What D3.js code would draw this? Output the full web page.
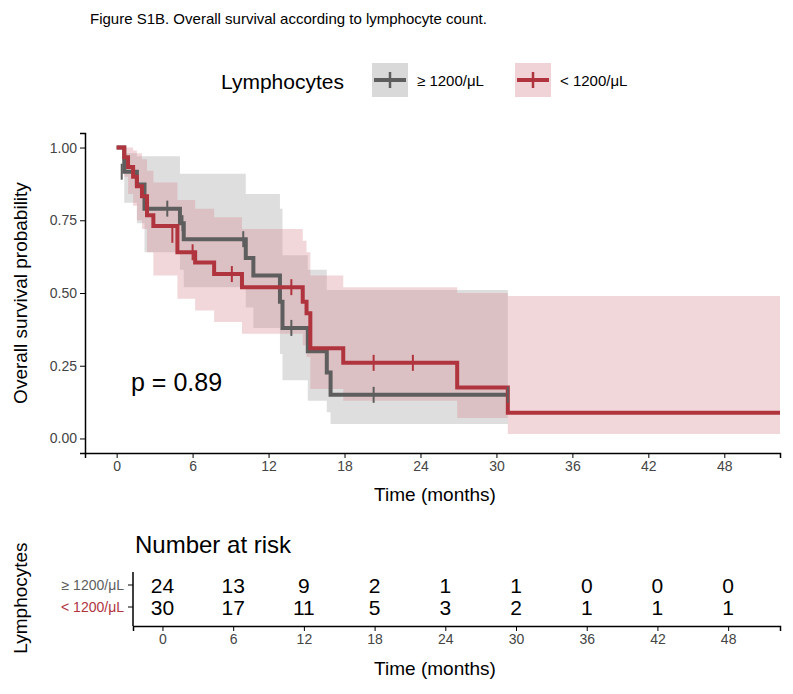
<!DOCTYPE html>
<html><head><meta charset="utf-8">
<script src="https://cdn.jsdelivr.net/npm/d3@7"></script>
<style>body{margin:0;background:#fff}text{font-family:Arial,"Liberation Sans",sans-serif}</style>
</head><body>
<script>
// step curve data (time in months)
var hiTime  = [0, 0.6, 1.6, 2.2, 5.0, 5.3, 10.2, 10.8, 12.9, 13.1, 15.1, 16.6, 16.9, 30.9];
var hiSurv  = [1, 0.917, 0.873, 0.79, 0.74, 0.685, 0.62, 0.56, 0.47, 0.38, 0.30, 0.227, 0.15, 0.15];
var hiLow   = [1, 0.81, 0.74, 0.64, 0.58, 0.52, 0.45, 0.38, 0.29, 0.2, 0.13, 0.09, 0.05, 0.05];
var hiUp    = [1, 0.98, 0.97, 0.97, 0.91, 0.91, 0.84, 0.84, 0.79, 0.63, 0.58, 0.51, 0.51, 0.51];
var hiCens  = [[0.4, 0.917], [4.0, 0.79], [5.2, 0.74], [10.0, 0.685], [13.8, 0.38], [20.3, 0.15], [30.9, 0.15]];

var loTime  = [0, 0.6, 0.9, 1.3, 1.6, 2.0, 2.4, 2.9, 4.8, 6.2, 7.7, 9.9, 14.7, 15.0, 15.3, 17.9, 26.9, 30.9, 52.4];
var loSurv  = [1, 0.967, 0.933, 0.9, 0.867, 0.833, 0.767, 0.73, 0.64, 0.605, 0.565, 0.52, 0.47, 0.43, 0.31, 0.26, 0.175, 0.088, 0.088];
var loLow   = [1, 0.9, 0.84, 0.8, 0.75, 0.72, 0.64, 0.56, 0.48, 0.44, 0.40, 0.36, 0.32, 0.28, 0.17, 0.13, 0.07, 0.015, 0.015];
var loUp    = [1, 1, 1, 0.99, 0.98, 0.96, 0.92, 0.88, 0.82, 0.79, 0.76, 0.72, 0.68, 0.64, 0.56, 0.52, 0.50, 0.49, 0.49];
var loCens  = [[4.4, 0.70], [6.0, 0.64], [9.1, 0.565], [13.8, 0.52], [20.3, 0.26], [23.4, 0.26]];

var xTicks = [0, 6, 12, 18, 24, 30, 36, 42, 48];
var yTicks = [0, 0.25, 0.5, 0.75, 1];
var groups = ["\u2265 1200/\u03bcL", "< 1200/\u03bcL"];
var riskHi = [24, 13, 9, 2, 1, 1, 0, 0, 0];
var riskLo = [30, 17, 11, 5, 3, 2, 1, 1, 1];

var gray = "#5e5e5e", red = "#b0343e";
var w = 793, h = 694;
var svg = d3.select("body").append("svg").attr("width", w).attr("height", h);

svg.append("text").attr("x", 90).attr("y", 24).attr("font-size", 15).text("Figure S1B. Overall survival according to lymphocyte count.");

// legend
svg.append("text").attr("x", 221).attr("y", 89).attr("font-size", 21).text("Lymphocytes");
[[372, gray, "#d9d9d9", groups[0]], [515, red, "#efd3d6", groups[1]]].forEach(function(k){
  svg.append("rect").attr("x", k[0]).attr("y", 63).attr("width", 36).attr("height", 34).attr("fill", k[2]);
  svg.append("line").attr("x1", k[0] + 2).attr("x2", k[0] + 34).attr("y1", 80).attr("y2", 80).attr("stroke", k[1]).attr("stroke-width", 4);
  svg.append("line").attr("x1", k[0] + 18).attr("x2", k[0] + 18).attr("y1", 72).attr("y2", 88).attr("stroke", k[1]).attr("stroke-width", 2.5);
  svg.append("text").attr("x", k[0] + 45).attr("y", 86).attr("font-size", 15).text(k[3]);
});

// main panel
var x = d3.scaleLinear().domain([-2.5, 52.4]).range([85, 780]);
var y = d3.scaleLinear().domain([-0.05, 1.05]).range([453, 133]);

function zip(t, a, b){ return t.map(function(d, i){ return {t: d, a: a[i], b: b ? b[i] : 0}; }); }
var area = d3.area().curve(d3.curveStepAfter).x(function(d){ return x(d.t); }).y0(function(d){ return y(d.a); }).y1(function(d){ return y(d.b); });
var line = d3.line().curve(d3.curveStepAfter).x(function(d){ return x(d.t); }).y(function(d){ return y(d.a); });

svg.append("path").attr("d", area(zip(hiTime, hiLow, hiUp))).attr("fill", "#c8c8c8").attr("opacity", 0.6);
svg.append("path").attr("d", area(zip(loTime, loLow, loUp))).attr("fill", "#d98b94").attr("opacity", 0.35);
svg.append("path").attr("d", line(zip(hiTime, hiSurv))).attr("fill", "none").attr("stroke", gray).attr("stroke-width", 4);
svg.append("path").attr("d", line(zip(loTime, loSurv))).attr("fill", "none").attr("stroke", red).attr("stroke-width", 4);

[[hiCens, gray], [loCens, red]].forEach(function(c){
  c[0].forEach(function(p){
    svg.append("line").attr("x1", x(p[0])).attr("x2", x(p[0])).attr("y1", y(p[1]) - 8).attr("y2", y(p[1]) + 8).attr("stroke", c[1]).attr("stroke-width", 2);
  });
});

function styleAxis(g){
  g.attr("font-size", 14).attr("font-family", null);
  g.selectAll("text").style("font-size", "14px").attr("fill", "#444");
  g.select(".domain").attr("stroke-width", 1.5);
}
svg.append("g").attr("transform", "translate(0,453)").call(d3.axisBottom(x).tickValues(xTicks).tickSizeOuter(0).tickSize(5)).call(styleAxis);
svg.append("g").attr("transform", "translate(85,0)").call(d3.axisLeft(y).tickValues(yTicks).tickFormat(d3.format(".2f")).tickSizeOuter(0).tickSize(5)).call(styleAxis);

svg.append("text").attr("x", 435).attr("y", 501).attr("text-anchor", "middle").attr("font-size", 19).text("Time (months)");
svg.append("text").attr("transform", "translate(27,293) rotate(-90)").attr("text-anchor", "middle").attr("font-size", 19).text("Overall survival probability");
svg.append("text").attr("x", 131).attr("y", 391).attr("font-size", 25).text("p = 0.89");

// risk table
var xt = d3.scaleLinear().domain([-2.5, 52.4]).range([133, 780]);
svg.append("text").attr("x", 135).attr("y", 553).attr("font-size", 24).text("Number at risk");
[[riskHi, 585, gray], [riskLo, 607, red]].forEach(function(r, j){
  svg.selectAll(null).data(r[0]).enter().append("text")
    .attr("x", function(d, i){ return xt(xTicks[i]); }).attr("y", r[1] + 8).attr("text-anchor", "middle").attr("font-size", 21).text(function(d){ return d; });
  svg.append("text").attr("x", 124).attr("y", r[1] + 5).attr("text-anchor", "end").attr("font-size", 14).attr("fill", r[2]).text(groups[j]);
  svg.append("line").attr("x1", 128).attr("x2", 133).attr("y1", r[1]).attr("y2", r[1]).attr("stroke", "#000");
});
svg.append("g").attr("transform", "translate(0,626)").call(d3.axisBottom(xt).tickValues(xTicks).tickSizeOuter(0).tickSize(5)).call(styleAxis);
svg.append("line").attr("x1", 133).attr("x2", 133).attr("y1", 572).attr("y2", 626).attr("stroke", "#000").attr("stroke-width", 1.5);
svg.append("text").attr("x", 435).attr("y", 675).attr("text-anchor", "middle").attr("font-size", 19).text("Time (months)");
svg.append("text").attr("transform", "translate(27,598) rotate(-90)").attr("text-anchor", "middle").attr("font-size", 19).text("Lymphocytes");
</script>
</body></html>
